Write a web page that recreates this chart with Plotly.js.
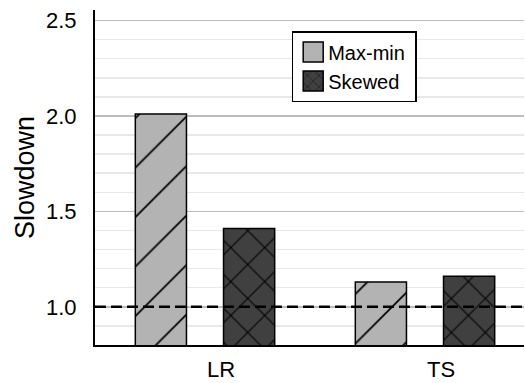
<!DOCTYPE html>
<html>
<head>
<meta charset="utf-8">
<script src="https://cdn.plot.ly/plotly-3.0.1.min.js"></script>
<style>html,body{margin:0;padding:0;background:#fff;}#chart{width:525px;height:383px;}</style>
</head>
<body>
<div id="chart"></div>
<script>
var categories = ["LR", "TS"];
var maxMinValues = [2.01, 1.13];
var skewedValues = [1.41, 1.16];
var seriesNames = ["Max-min", "Skewed"];
var baselineValue = 1.0;
var yTickVals = [1.0, 1.5, 2.0, 2.5];
var yTickText = ["1.0", "1.5", "2.0", "2.5"];

var FONT = "Liberation Sans, Arial, Helvetica, sans-serif";

var traces = [
  {
    type: "bar", name: seriesNames[0], x: categories, y: maxMinValues,
    marker: {
      color: "#b3b3b3",
      line: {color: "#000", width: 1.5},
      pattern: {shape: "/", size: 35, solidity: 0.05, fgcolor: "#000", bgcolor: "#b3b3b3", fillmode: "replace"}
    }
  },
  {
    type: "bar", name: seriesNames[1], x: categories, y: skewedValues,
    marker: {
      color: "#404040",
      line: {color: "#000", width: 1.5},
      pattern: {shape: "x", size: 24, solidity: 0.09, fgcolor: "#000", bgcolor: "#404040", fillmode: "replace"}
    }
  }
];

var layout = {
  width: 525, height: 383,
  margin: {l: 95, r: 1, t: 10, b: 38, pad: 0},
  paper_bgcolor: "#fff", plot_bgcolor: "#fff",
  font: {family: FONT, color: "#000", size: 22},
  barmode: "group", bargap: 0.198, bargroupgap: 0.42,
  showlegend: true,
  legend: {
    x: 0.4585, y: 0.937, xanchor: "left", yanchor: "top",
    bgcolor: "#fff", bordercolor: "#000", borderwidth: 1.5,
    font: {family: FONT, size: 20, color: "#000"},
    tracegroupgap: 0, traceorder: "normal"
  },
  xaxis: {
    type: "category", range: [-0.5, 1.45],
    showline: true, linecolor: "#000", linewidth: 2,
    showgrid: false, ticks: "", zeroline: false,
    tickfont: {family: FONT, size: 22, color: "#000"},
    ticklabelshift: 16, ticklabelstandoff: 4
  },
  yaxis: {
    range: [0.8, 2.555],
    tickvals: yTickVals, ticktext: yTickText,
    showline: true, linecolor: "#000", linewidth: 2,
    showgrid: true, gridcolor: "#bdbdbd", gridwidth: 1.5,
    minor: {dtick: 0.1, tick0: 0.8, showgrid: true, gridcolor: "#e8e8e8", gridwidth: 1.5, ticks: ""},
    zeroline: false, ticks: "",
    tickfont: {family: FONT, size: 22, color: "#000"},
    ticklabelstandoff: 12,
    title: {text: "Slowdown", font: {family: FONT, size: 27, color: "#000"}, standoff: 4}
  },
  shapes: [
    {type: "line", xref: "paper", x0: 0, x1: 1, yref: "y", y0: baselineValue, y1: baselineValue,
     line: {color: "#000", width: 2.5, dash: "11px,5px"}, layer: "above"}
  ]
};

Plotly.newPlot("chart", traces, layout, {displayModeBar: false, staticPlot: true}).then(function (gd) {
  // enlarge legend swatches to match the reference
  var paths = gd.querySelectorAll(".legend .legendpoints path");
  paths.forEach(function (p, i) {
    p.setAttribute("d", "M10,10H-10V-10H10Z");
    p.style.strokeWidth = "1.5px";
    if (i === 0) { p.style.fill = "#b3b3b3"; }
  });
  var texts = gd.querySelectorAll(".legend .legendtext");
  texts.forEach(function (t) {
    var x = parseFloat(t.getAttribute("x")) || 40;
    t.setAttribute("x", x - 5);
  });
});
</script>
</body>
</html>
